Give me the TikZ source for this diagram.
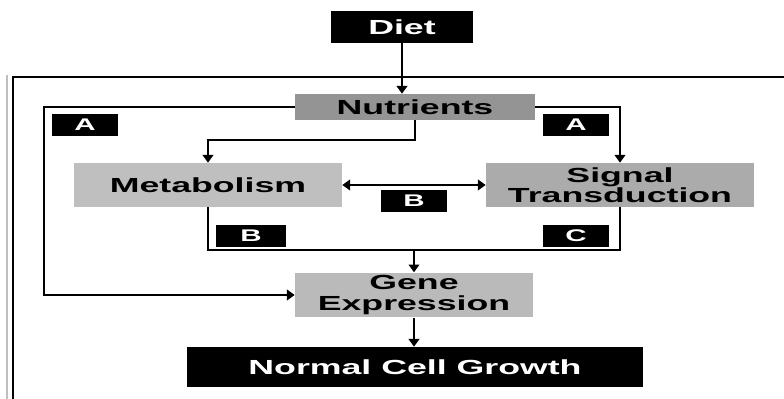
\documentclass[tikz,border=0pt]{standalone}
\usepackage{fontspec}
\setmainfont{Liberation Sans}[FakeStretch=1.75]
\usetikzlibrary{arrows.meta}

\begin{document}
\begin{tikzpicture}[x=0.025cm, y=-0.025cm,
            box/.style={rectangle, inner sep=0pt, align=center, font=\fontsize{14.5}{14.5}\selectfont\bfseries},
            darkbox/.style={box, fill=black, text=white},
            tag/.style={rectangle, inner sep=0pt, fill=black, text=white, minimum width=1.65cm, minimum height=0.57cm, font=\fontsize{12}{12}\selectfont\bfseries},
            link/.style={->, >={Triangle[length=5.5pt, width=7.5pt]}, line width=1.4pt},
            plain/.style={line width=1.4pt},
            frame/.style={line width=2pt}
        ]
            \useasboundingbox (0,0) rectangle (784,399);

            % --- outer frame ---
            \draw[black!25, line width=1pt] (7,75) -- (7,399);
            \draw[frame] (784,77) -| (13,399);

            % --- boxes ---
            \node[darkbox, minimum width=3.55cm, minimum height=0.8cm] (diet) at (402,27) {Diet};
            \node[box, fill=black!42, minimum width=6cm, minimum height=0.65cm] (nutr) at (415,107) {Nutrients};
            \node[box, fill=black!25, minimum width=6.7cm, minimum height=1.1cm] (metab) at (208,185) {Metabolism};
            \node[box, fill=black!33, minimum width=6.7cm, minimum height=1.1cm] (signal) at (620,185) {Signal\\Transduction};
            \node[box, fill=black!27, minimum width=5.95cm, minimum height=1.12cm] (gene) at (414,295) {Gene\\Expression};
            \node[darkbox, minimum width=11.4cm, minimum height=1cm] (growth) at (415,367) {Normal Cell Growth};

            % --- labels ---
            \node[tag] (tagA1) at (85,125) {A};
            \node[tag] (tagA2) at (576,125) {A};
            \node[tag] (tagB1) at (414,201) {B};
            \node[tag, minimum width=1.75cm] (tagB2) at (251,236) {B};
            \node[tag] (tagC) at (576,236) {C};

            % --- connectors ---
            \draw[link] (diet) -- (diet |- nutr.north);
            \draw[link] (nutr.west) -- (44,107) |- (gene.west);
            \draw[link] (nutr.south) -- ++(0,20) -| (metab.north);
            \draw[link] (nutr.east) -| (signal.north);
            \draw[link, <->] (metab) -- (signal);

            \coordinate (join) at (414,250);
            \draw[plain] (metab.south) |- (join) -| (signal.south);
            \draw[link] (join) -- (gene.north);
            \draw[link] (gene) -- (gene |- growth.north);
        \end{tikzpicture}
\end{document}
